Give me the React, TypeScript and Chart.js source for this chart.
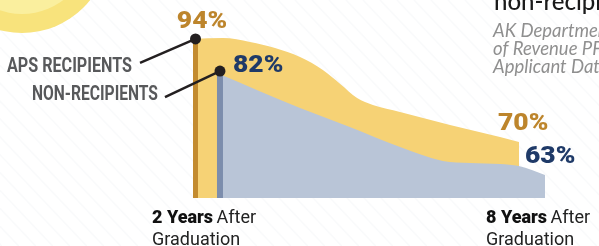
import { useEffect, useRef } from 'react';
import { Chart, registerables } from 'chart.js';

Chart.register(...registerables);

// Years after graduation (x) and visual heights (y) of the two areas
const APS_X = [2.0, 2.55, 3.05, 3.51, 3.97, 4.39, 4.71, 5.02, 5.31, 5.81, 6.73, 7.65, 8.0];
const APS_Y = [93.2, 93.7, 91.4, 87.9, 82.6, 75.0, 66.8, 58.6, 54.5, 50.4, 42.8, 35.7, 32.8];
const NON_X = [2.0, 3.52, 4.43, 5.35, 6.13, 6.63, 7.18, 7.52, 8.0];
const NON_Y = [73.2, 52.7, 41.6, 29.9, 21.7, 20.5, 19.9, 18.7, 13.5];

const SERIES_LABELS = ['APS RECIPIENTS', 'NON-RECIPIENTS'];
const PCT_LABELS = { apsStart: '94%', nonStart: '82%', apsEnd: '70%', nonEnd: '63%' };
const TICK_YEARS = [2, 8];
const TICK_BOLD = ['2 Years', '8 Years'];
const TICK_REST = [' After', ' After'];
const TICK_LINE2 = ['Graduation', 'Graduation'];
const TITLE = 'non-recipients';
const SOURCE_LINES = ['AK Department', 'of Revenue PFD', 'Applicant Data'];

const GOLD = '#bd852c';
const NAVY = '#1f3a68';

function stretched(ctx: CanvasRenderingContext2D, text: string, x: number, y: number, sx: number) {
  ctx.save();
  ctx.translate(x, y);
  ctx.scale(sx, 1);
  ctx.fillText(text, 0, 0);
  ctx.restore();
}

const decor = {
  id: 'decor',
  beforeDraw(chart: any) {
    const ctx = chart.ctx as CanvasRenderingContext2D;
    const W = chart.width, H = chart.height;
    ctx.save();
    ctx.fillStyle = '#ffffff';
    ctx.fillRect(0, 0, W, H);
    // faint diagonal stripes
    ctx.strokeStyle = 'rgba(215,222,232,0.16)';
    ctx.lineWidth = 1.5;
    for (let k = -300; k < W + 50; k += 17) {
      ctx.beginPath();
      ctx.moveTo(k, 0);
      ctx.lineTo(k + H * 0.95, H);
      ctx.stroke();
    }
    // sun
    ctx.fillStyle = '#f8e37c';
    ctx.beginPath();
    ctx.arc(22, -54, 87, 0, Math.PI * 2);
    ctx.fill();
    ctx.fillStyle = '#faef9e';
    ctx.beginPath();
    ctx.arc(22, -54, 68, 0, Math.PI * 2);
    ctx.fill();
    ctx.restore();
  },
  afterDatasetsDraw(chart: any) {
    const ctx = chart.ctx as CanvasRenderingContext2D;
    const xa = chart.scales.xAps, xn = chart.scales.xNon, ys = chart.scales.y;
    const base = ys.getPixelForValue(0);
    const ax0 = xa.getPixelForValue(APS_X[0]);
    const ay0 = ys.getPixelForValue(APS_Y[0]);
    const ax1 = xa.getPixelForValue(APS_X[APS_X.length - 1]);
    const ay1 = ys.getPixelForValue(APS_Y[APS_Y.length - 1]);
    const nx0 = xn.getPixelForValue(NON_X[0]);
    const ny0 = ys.getPixelForValue(NON_Y[0]);
    const nx1 = xn.getPixelForValue(NON_X[NON_X.length - 1]);
    const ny1 = ys.getPixelForValue(NON_Y[NON_Y.length - 1]);

    ctx.save();
    // edge strips
    ctx.fillStyle = '#c38b2f';
    ctx.fillRect(ax0, ay0, 5, base - ay0);
    ctx.fillStyle = '#7c8dac';
    ctx.fillRect(nx0, ny0, 6, base - ny0);

    // leaders + dots
    ctx.strokeStyle = '#231f20';
    ctx.fillStyle = '#231f20';
    ctx.lineWidth = 2.5;
    ctx.beginPath();
    ctx.moveTo(ax0 - 53, ay0 + 24);
    ctx.lineTo(ax0 + 2.5, ay0);
    ctx.stroke();
    ctx.beginPath();
    ctx.arc(ax0 + 2.5, ay0, 5.5, 0, Math.PI * 2);
    ctx.fill();
    ctx.beginPath();
    ctx.moveTo(nx0 - 52, ny0 + 24);
    ctx.lineTo(nx0 + 3, ny0 - 2);
    ctx.stroke();
    ctx.beginPath();
    ctx.arc(nx0 + 3, ny0 - 2, 5.5, 0, Math.PI * 2);
    ctx.fill();

    // series labels
    ctx.fillStyle = '#58595b';
    ctx.font = 'bold 20px Roboto';
    ctx.textAlign = 'right';
    ctx.textBaseline = 'alphabetic';
    ctx.fillText(SERIES_LABELS[0], ax0 - 61, ay0 + 33, 125);
    ctx.fillText(SERIES_LABELS[1], nx0 - 59, ny0 + 27, 126);

    // percentages
    ctx.font = '900 23px Roboto';
    ctx.fillStyle = GOLD;
    ctx.textAlign = 'center';
    stretched(ctx, PCT_LABELS.apsStart, ax0 + 9, ay0 - 11, 1.15);
    ctx.textAlign = 'left';
    ctx.fillStyle = NAVY;
    stretched(ctx, PCT_LABELS.nonStart, nx0 + 16, ny0 - 1, 1.15);
    ctx.fillStyle = GOLD;
    stretched(ctx, PCT_LABELS.apsEnd, ax1 - 21, ay1 - 12, 1.15);
    ctx.fillStyle = NAVY;
    stretched(ctx, PCT_LABELS.nonEnd, nx1 - 20, ny1 - 12, 1.15);

    // bottom tick labels
    TICK_YEARS.forEach((yr, i) => {
      const px = xa.getPixelForValue(yr);
      const lx = i === 0 ? px - 41 : px - 33;
      ctx.textAlign = 'left';
      ctx.fillStyle = '#111111';
      ctx.font = '900 18px Roboto';
      ctx.fillText(TICK_BOLD[i], lx, base + 25);
      const w = ctx.measureText(TICK_BOLD[i]).width;
      ctx.font = '400 18px Roboto';
      ctx.fillStyle = '#222222';
      ctx.fillText(TICK_REST[i], lx + w - 1, base + 25);
      ctx.fillText(TICK_LINE2[i], lx, base + 47);
    });

    // title + source
    ctx.fillStyle = '#1a1a1a';
    ctx.font = '500 24px Lato';
    ctx.fillText(TITLE, 494, 10);
    ctx.fillStyle = '#8f8f8f';
    ctx.font = 'italic 18.5px Lato';
    SOURCE_LINES.forEach((s, i) => ctx.fillText(s, 493, 37 + i * 18));
    ctx.restore();
  },
};

export default function App() {
  const ref = useRef<HTMLCanvasElement>(null);
  useEffect(() => {
    document.body.style.margin = '0';
    const canvas = ref.current;
    if (!canvas) return;
    const chart = new Chart(canvas, {
      type: 'line',
      data: {
        datasets: [
          {
            label: SERIES_LABELS[1],
            data: NON_X.map((x, i) => ({ x, y: NON_Y[i] })),
            xAxisID: 'xNon',
            yAxisID: 'y',
            backgroundColor: '#b9c5d7',
            borderColor: 'rgba(0,0,0,0)',
            borderWidth: 0,
            pointRadius: 0,
            fill: 'origin',
            cubicInterpolationMode: 'monotone',
            order: 0,
          },
          {
            label: SERIES_LABELS[0],
            data: APS_X.map((x, i) => ({ x, y: APS_Y[i] })),
            xAxisID: 'xAps',
            yAxisID: 'y',
            backgroundColor: '#f6d275',
            borderColor: 'rgba(0,0,0,0)',
            borderWidth: 0,
            pointRadius: 0,
            fill: 'origin',
            cubicInterpolationMode: 'monotone',
            order: 1,
          },
        ],
      },
      options: {
        responsive: false,
        animation: false,
        events: [],
        layout: { padding: { left: 0, right: 0, top: 0, bottom: 48 } },
        plugins: { legend: { display: false }, tooltip: { enabled: false } },
        scales: {
          xAps: { type: 'linear', min: -1.552, max: 9.472, display: false },
          xNon: { type: 'linear', min: -1.969, max: 8.988, display: false },
          y: { type: 'linear', min: 0, max: 116, display: false },
        },
      },
      plugins: [decor],
    });
    return () => chart.destroy();
  }, []);
  return (
    <div style={{ position: 'absolute', left: 0, top: 0, width: 599, height: 246 }}>
      <canvas ref={ref} width={599} height={246} style={{ display: 'block', width: 599, height: 246 }} />
    </div>
  );
}
